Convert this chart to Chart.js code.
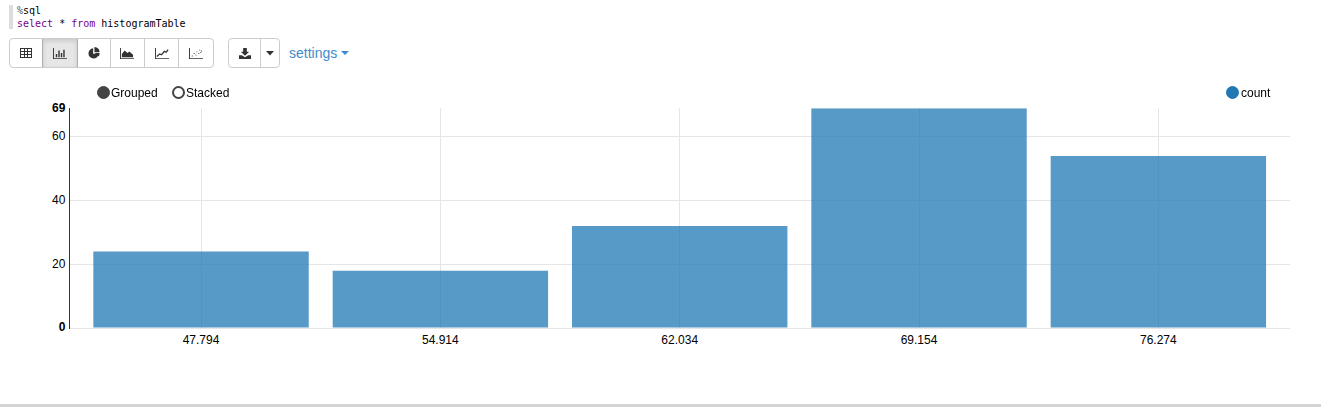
<!DOCTYPE html>
<html><head><meta charset="utf-8">
<script src="https://cdn.jsdelivr.net/npm/chart.js@4"></script>
<style>
html,body{margin:0;padding:0;background:#fff;width:1321px;height:407px;overflow:hidden;font-family:"Liberation Sans",Arial,sans-serif;color:#000}
#bar{position:absolute;left:9px;top:5px;width:4px;height:24px;background:#ddd}
#code{position:absolute;left:17px;top:5px;font:10px/12.5px "DejaVu Sans Mono",monospace;white-space:pre;color:#000}
#code .m{color:#555}#code .k{color:#708}
.grp{position:absolute;top:38px;height:30px;display:flex;box-sizing:border-box;border:1px solid #ccc;border-radius:4px;background:#fff;overflow:hidden}
.b{box-sizing:border-box;height:28px;display:flex;align-items:center;justify-content:center;border-right:1px solid #ccc}
.b:last-child{border-right:0}
.b.on{background:#e6e6e6;box-shadow:inset 0 2px 4px rgba(0,0,0,.125);border-right:1px solid #adadad;border-left:1px solid #adadad}
.b svg{display:block}
#settings{position:absolute;left:289px;top:44px;font-size:14px;line-height:18px;color:#428bca}
#caret{position:absolute;left:341px;top:51px;width:0;height:0;border-left:4.5px solid transparent;border-right:4.5px solid transparent;border-top:4.5px solid #428bca}
.lg{position:absolute;top:86px;font-size:12px;line-height:15px;white-space:nowrap;z-index:2}
.dot{position:absolute;top:86px;width:13px;height:13px;border-radius:50%;box-sizing:border-box;z-index:2}
#foot{position:absolute;left:0;top:404px;width:1321px;height:3px;background:#d4d4d4}
canvas{position:absolute;left:0;top:97px;z-index:1}
</style></head><body>
<div id="bar"></div>
<div id="code"><span class="m">%</span>sql
<span class="k">select</span> * <span class="k">from</span> histogramTable</div>

<div class="grp" style="left:9px;width:205px">
 <div class="b" style="width:32px;border-right:0"><svg width="12" height="10" viewBox="1 1 12 10"><path fill="#333" d="M1 1h12v10H1zM2 2v2h3V2zm4 0v2h2V2zm3 0v2h3V2zM2 5v2h3V5zm4 0v2h2V5zm3 0v2h3V5zM2 8v2h3V8zm4 0v2h2V8zm3 0v2h3V8z" fill-rule="evenodd"/></svg></div>
 <div class="b on" style="width:36px"><svg width="14" height="11" viewBox="0 0 15 13" preserveAspectRatio="none"><path fill="#333" d="M0 0h1v12h14v1H0zM3 7h1.5v4H3zM5.7 3h1.5v8H5.7zM8.4 6h1.5v5H8.4zM11 2h1.5v9H11z"/></svg></div>
 <div class="b" style="width:33px"><svg width="12" height="12" viewBox="0 0 14 14"><path fill="#333" d="M6 1.5A6 6 0 1 0 12.5 8H6zM7.5 0v6h6A6.3 6.3 0 0 0 7.5 0zM8 7l4.5 4a6 6 0 0 0 1-4z"/></svg></div>
 <div class="b" style="width:35px"><svg width="14" height="11" viewBox="0 0 15 13" preserveAspectRatio="none"><path fill="#333" d="M0 0h1v12h14v1H0zM2 11V7l3-4 3 3 2-2 4 4v3z"/></svg></div>
 <div class="b" style="width:34px"><svg width="14" height="11" viewBox="0 0 15 13" preserveAspectRatio="none"><path fill="#333" d="M0 0h1v12h14v1H0z"/><path fill="none" stroke="#333" stroke-width="1.5" d="M2 10l3-3 2 1 3-4 2 1 2-3"/></svg></div>
 <div class="b" style="width:34px"><svg width="14" height="11" viewBox="0 0 15 13" preserveAspectRatio="none"><path fill="#333" d="M0 0h1v12h14v1H0zM3 9h1v1H3zM5 6h1v1H5zM7 8h1v1H7zM8 4h1v1H8zM10 6h1v1h-1zM11 2h1v1h-1zM13 3h1v1h-1zM12 5h1v1h-1z"/></svg></div>
</div>
<div class="grp" style="left:228px;width:52px">
 <div class="b" style="width:32px"><svg width="12" height="11" viewBox="0 0 13 12" preserveAspectRatio="none"><path fill="#333" d="M4.5 0h4v4H11L6.5 8.5 2 4h2.5zM0 8h3l3.5 2L10 8h3v4H0z"/></svg></div>
 <div class="b" style="width:18px"><svg width="8" height="5" viewBox="0 0 8 5"><path fill="#333" d="M0 0h8L4 4.5z"/></svg></div>
</div>
<div id="settings">settings</div><div id="caret"></div>

<div class="dot" style="left:97px;background:#444;border:1px solid #444"></div>
<div class="lg" style="left:111px">Grouped</div>
<div class="dot" style="left:172px;border:2px solid #444;background:#fff"></div>
<div class="lg" style="left:186px">Stacked</div>
<div class="dot" style="left:1226px;background:#1f77b4;border:1px solid #1f77b4"></div>
<div class="lg" id="serieslabel" style="left:1241px"></div>

<canvas id="c" width="1321" height="263" style="width:1321px;height:263px"></canvas>
<div id="foot"></div>

<script>
const categories = ["47.794", "54.914", "62.034", "69.154", "76.274"];
const seriesName = "count";
const countValues = [24, 18, 32, 69, 54];
const yTickValues = [0, 20, 40, 60, 69];
const boldTicks = [0, 69];

Chart.defaults.animation = false;
document.getElementById('serieslabel').textContent = seriesName;

const whiteBackground = {
  id: 'whiteBackground',
  beforeDraw(chart) {
    const g = chart.ctx;
    g.save(); g.fillStyle = '#fff'; g.fillRect(0, 0, chart.width, chart.height); g.restore();
  }
};

const ctx = document.getElementById('c').getContext('2d', {alpha: false});
new Chart(ctx, {
  type: 'bar',
  plugins: [whiteBackground],
  data: {
    datasets: [{
      label: seriesName,
      data: categories.map((c, i) => ({x: i, y: countValues[i]})),
      backgroundColor: 'rgba(31,119,180,0.75)',
      borderWidth: 0,
      categoryPercentage: 0.9,
      barPercentage: 1
    }]
  },
  options: {
    responsive: false,
    devicePixelRatio: 1,
    layout: {padding: {left: 0, right: 31, top: 5, bottom: 0}},
    plugins: {legend: {display: false}, tooltip: {enabled: false}},
    scales: {
      x: {
        type: 'linear', min: -0.55, max: 4.55, offset: false,
        afterBuildTicks: a => { a.ticks = categories.map((c, i) => ({value: i})); },
        afterFit: a => { a.height = 32; },
        grid: {color: '#e5e5e5', lineWidth: 1, drawTicks: false, offset: false},
        border: {display: false},
        ticks: {
          callback: v => categories[v], color: '#000', padding: 5, maxRotation: 0,
          autoSkip: false, font: {family: '"Liberation Sans",Arial,sans-serif', size: 12}
        }
      },
      y: {
        min: 0, max: 69,
        afterBuildTicks: a => { a.ticks = yTickValues.map(v => ({value: v})); },
        afterFit: a => { a.width = 69.4; },
        grid: {
          color: c => c.tick && c.tick.value === 69 ? 'rgba(0,0,0,0)' : '#e5e5e5',
          lineWidth: 1, drawTicks: false
        },
        border: {display: true, color: '#333', width: 1},
        ticks: {
          color: '#000', padding: 4, autoSkip: false,
          callback: v => String(v),
          font: c => ({
            family: '"Liberation Sans",Arial,sans-serif', size: 12,
            weight: c.tick && boldTicks.includes(c.tick.value) ? 'bold' : 'normal'
          })
        }
      }
    }
  }
});
</script>
</body></html>
